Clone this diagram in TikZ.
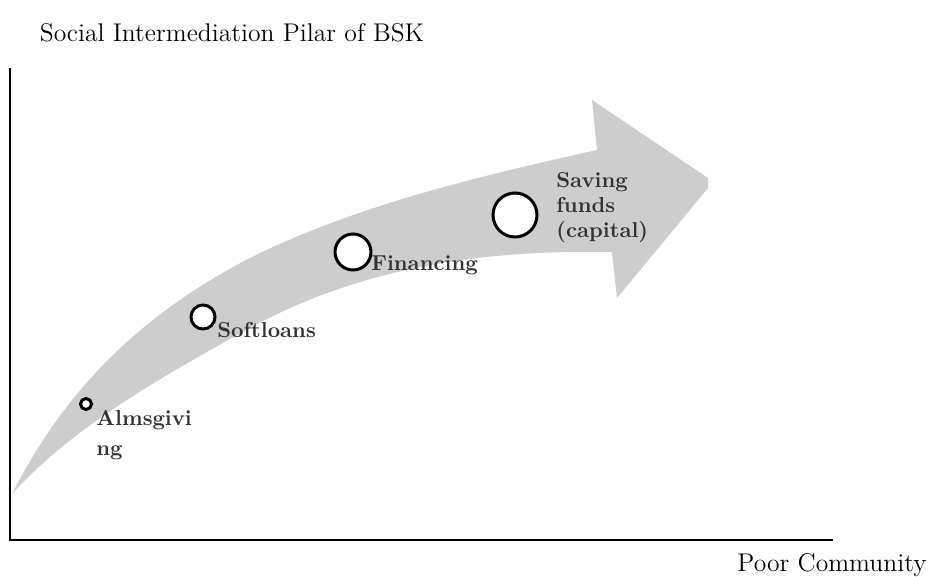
\documentclass[tikz,border=0pt]{standalone}
\usepackage{tikz}
\usetikzlibrary{positioning}

\definecolor{arrowgray}{RGB}{205,205,205}

\tikzset{
	stage/.style={circle, draw=black, line width=1.5pt, fill=white, inner sep=0pt},
	stagelabel/.style={font=\fontsize{10.8}{12.5}\selectfont\bfseries, align=left, inner sep=0pt, text=black!80},
	axislabel/.style={font=\fontsize{12.8}{15}\selectfont, inner sep=0pt}
}

\begin{document}
\begin{tikzpicture}[x=0.5pt,y=-0.5pt]
		\useasboundingbox (0,0) rectangle (928,577);

		% Axes
		\coordinate (ytop) at (10,68);
		\coordinate (origin) at (10,540);
		\coordinate (xend) at (833,540);
		\draw[line width=1pt] (ytop) -- (origin) -- (xend);

		% Curved arrow
		\fill[arrowgray] (12,494) .. controls (60,400) and (130,320) .. (250,258)
			.. controls (350,208) and (470,178) .. (597,150) -- (592,100) -- (708,178)
			-- (708,188) -- (617,298) -- (612,252)
			.. controls (500,250) and (370,262) .. (250,328)
			.. controls (150,383) and (70,430) .. (12,494) -- cycle;

		% Stages
		\node[stage, minimum size=5.5pt] (alms) at (86,404) {};
		\node[stage, minimum size=12pt] (soft) at (203,317) {};
		\node[stage, minimum size=18pt] (fin) at (353,252) {};
		\node[stage, minimum size=22pt] (save) at (515,215) {};

		% Stage labels
		\node[stagelabel, anchor=north west, font=\fontsize{10.8}{15}\selectfont\bfseries] (almstxt) at (96,410) {Almsgivi\\ng};
		\node[stagelabel, anchor=west] (softtxt) at (217,330) {Softloans};
		\node[stagelabel, anchor=west] (fintxt) at (371,265) {Financing};
		\node[stagelabel, anchor=north west] (savetxt) at (556,172) {Saving\\funds\\(capital)};

		% Labels
		\node[axislabel] (title) at (232,33) {Social Intermediation Pilar of BSK};
		\node[axislabel] (xlabel) at (832,565) {Poor Community};
	\end{tikzpicture}
\end{document}
